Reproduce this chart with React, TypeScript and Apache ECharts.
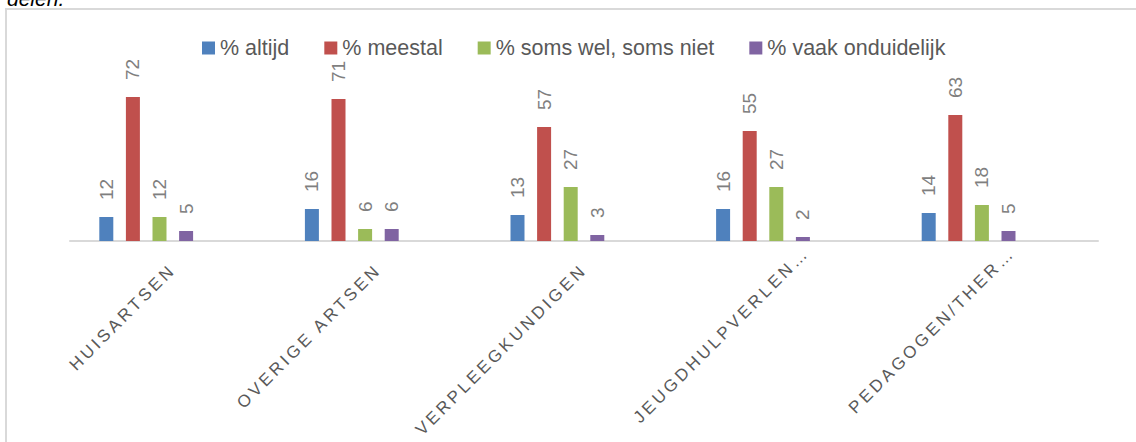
import React, { useEffect, useRef } from "react";
import * as echarts from "echarts";

const categories = ["HUISARTSEN", "OVERIGE ARTSEN", "VERPLEEGKUNDIGEN", "JEUGDHULPVERLEN…", "PEDAGOGEN/THER…"];
const seriesNames = ["% altijd", "% meestal", "% soms wel, soms niet", "% vaak onduidelijk"];
const altijd = [12, 16, 13, 16, 14];
const meestal = [72, 71, 57, 55, 63];
const somsWel = [12, 6, 27, 27, 18];
const vaakOnduidelijk = [5, 6, 3, 2, 5];
// two empty series present in the source chart (no values, not in legend)
const leegA: (number | null)[] = [null, null, null, null, null];
const leegB: (number | null)[] = [null, null, null, null, null];
const colors = ["#4F81BD", "#C0504D", "#9BBB59", "#8064A2", "#F79646", "#4BACC6"];

const FONT = "Liberation Sans";

export default function App() {
  const ref = useRef<HTMLDivElement>(null);
  useEffect(() => {
    document.body.style.margin = "0";
    const chart = echarts.init(ref.current!, null, { renderer: "svg" });
    const values = [altijd, meestal, somsWel, vaakOnduidelijk, leegA, leegB];
    const names = [...seriesNames, "leeg 1", "leeg 2"];
    chart.setOption({
      animation: false,
      textStyle: { fontFamily: FONT },
      graphic: [
        {
          type: "rect",
          shape: { x: 6, y: 9, width: 1300, height: 600 },
          style: { fill: "none", stroke: "#D9D9D9", lineWidth: 2 },
          silent: true,
        },
        {
          type: "text",
          x: 7,
          y: -2,
          style: {
            text: "delen.",
            font: `italic 21px ${FONT}`,
            fill: "#000000",
            textVerticalAlign: "middle",
          },
        },
      ],
      legend: {
        data: seriesNames,
        left: 202,
        top: 37,
        padding: 0,
        itemWidth: 13,
        itemHeight: 13,
        itemGap: 35,
        icon: "rect",
        textStyle: { fontSize: 21.5, color: "#595959", fontFamily: FONT },
      },
      grid: { left: 70, right: 38, top: 81, bottom: 201 },
      xAxis: {
        type: "category",
        data: categories,
        axisLine: { lineStyle: { color: "#D9D9D9", width: 2 } },
        axisTick: { show: false },
        axisLabel: {
          interval: 0,
          rotate: 45,
          margin: 26,
          fontSize: 17,
          color: "#595959",
          fontFamily: FONT,
          formatter: (v: string) => (v.endsWith("…") ? `{t|${v}}` : v),
          rich: {
            t: { fontSize: 17, color: "#595959", fontFamily: FONT, padding: [0, -24, 0, 0] },
          },
        },
      },
      yAxis: {
        type: "value",
        min: 0,
        max: 80,
        show: false,
        splitLine: { show: false },
      },
      series: values.map((d, i) => ({
        name: names[i],
        type: "bar",
        data: d,
        barWidth: 14,
        barGap: "90%",
        itemStyle: { color: colors[i] },
        label: {
          show: true,
          position: "top",
          rotate: 90,
          align: "left",
          verticalAlign: "middle",
          distance: 17,
          fontSize: 19,
          color: "#7F7F7F",
          fontFamily: FONT,
        },
      })),
    });
    return () => chart.dispose();
  }, []);
  return (
    <>
      <style>{`#chart text[style*="17px"]{letter-spacing:3.3px;}`}</style>
      <div id="chart" ref={ref} style={{ width: 1136, height: 442 }} />
    </>
  );
}
